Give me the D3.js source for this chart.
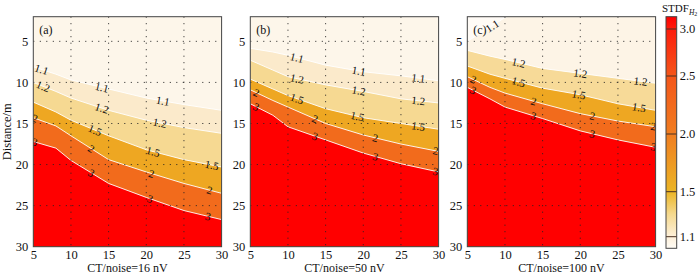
<!DOCTYPE html>
<html>
<head>
<meta charset="utf-8">
<script src="https://cdn.jsdelivr.net/npm/d3@7"></script>
<style>
  body { margin: 0; background: #fff; }
  svg { font-family: "Liberation Serif", "Times New Roman", serif; }
</style>
</head>
<body>
<div id="chart"></div>
<script>
// CT/noise values where the contour depths were read
const ctNoise = [5, 8, 10, 15, 20, 25, 30];
const levels = ['1.1', '1.2', '1.5', '2', '3'];
const xTicks = [5, 10, 15, 20, 25, 30];
const yTicks = [5, 10, 15, 20, 25, 30];
const panelNames = ['(a)', '(b)', '(c)'];
const xTitles = ['CT/noise=16 nV', 'CT/noise=50 nV', 'CT/noise=100 nV'];
const cbTicks = [1.1, 1.5, 2.0, 2.5, 3.0];

// depth (m) of each contour line, one row per level
const depthA = [
  [8.1, 9.0, 9.7, 10.8, 11.9, 12.7, 13.4],
  [10.0, 11.1, 11.9, 13.4, 14.6, 15.5, 16.2],
  [12.4, 13.6, 14.6, 16.5, 18.2, 19.4, 20.3],
  [14.3, 15.3, 16.5, 19.4, 20.9, 22.3, 23.5],
  [17.2, 18.0, 19.5, 22.3, 24.0, 25.6, 26.7]
];
const depthB = [
  [5.85, 6.3, 6.7, 7.9, 8.7, 9.2, 9.8],
  [7.3, 8.5, 9.3, 10.3, 11.1, 12.0, 12.5],
  [9.6, 10.8, 11.6, 13.2, 14.3, 15.0, 15.7],
  [10.9, 12.2, 13.0, 15.0, 16.4, 17.5, 18.4],
  [12.6, 14.0, 15.4, 17.0, 18.6, 19.9, 20.9]
];
const depthC = [
  [5.0, 3.3, 2.1, 0, 0, 0, 0],
  [6.1, 6.8, 7.2, 8.3, 8.9, 9.5, 10.1],
  [8.0, 9.0, 9.5, 10.7, 11.5, 12.6, 13.4],
  [9.3, 10.6, 11.3, 12.6, 13.8, 14.7, 15.4],
  [10.6, 12.0, 13.0, 14.4, 15.9, 17.0, 17.9]
];

// CT/noise positions of the inline contour labels, per level
const labelsA = [[6.1, 14.1, 22.2], [6.3, 14.1, 21.8], [13.2, 20.9, 28.7], [5.2, 12.7, 20.7, 28.4], [5.2, 12.7, 20.5, 28.2]];
const labelsB = [[11.2, 19.4, 27.3], [11.2, 19.4, 27.3], [11.2, 19.2, 27.3], [5.8, 13.6, 21.6, 29.6], [5.8, 13.6, 21.6, 29.6]];
const labelsC = [[8.3], [11.8, 20, 28], [11.8, 19.8, 27.8], [5.8, 13.8, 21.6, 29.7], [5.8, 13.8, 21.6, 29.7]];

// fill colours of the bands (below 1.1, 1.1-1.2, 1.2-1.5, 1.5-2, 2-3, above 3)
const bandsAB = ['#fdf6ea', '#fbeacb', '#f6d992', '#eea722', '#f26b1c', '#ff0000'];
const bandsC = ['#fffbf6', '#fdf4e6', '#f7da98', '#eea722', '#f26b1c', '#ff0000'];

const panels = [
  { depth: depthA, labels: labelsA, colors: bandsAB },
  { depth: depthB, labels: labelsB, colors: bandsAB },
  { depth: depthC, labels: labelsC, colors: bandsC }
];

const width = 700, height = 275;
const lefts = [33.3, 250.3, 467.3];
const pw = 188.3, plotTop = 16.7, plotBottom = 246.7;

const svg = d3.select('#chart').append('svg')
  .attr('width', width)
  .attr('height', height);

const y = d3.scaleLinear().domain([2, 30]).range([plotTop, plotBottom]);

panels.forEach((p, pi) => {
  const x = d3.scaleLinear().domain([5, 30]).range([lefts[pi], lefts[pi] + pw]);
  const g = svg.append('g');

  g.append('clipPath').attr('id', 'clip' + pi)
    .append('rect')
    .attr('x', lefts[pi]).attr('y', plotTop)
    .attr('width', pw).attr('height', plotBottom - plotTop);

  const body = g.append('g').attr('clip-path', `url(#clip${pi})`);

  body.append('rect')
    .attr('x', lefts[pi]).attr('y', plotTop)
    .attr('width', pw).attr('height', plotBottom - plotTop)
    .attr('fill', p.colors[0]);

  const area = d3.area()
    .x((d, i) => x(ctNoise[i]))
    .y0(y(30))
    .y1(d => y(d));
  const line = d3.line()
    .x((d, i) => x(ctNoise[i]))
    .y(d => y(d));

  body.selectAll('path.band')
    .data(p.depth)
    .join('path')
    .attr('class', 'band')
    .attr('d', area)
    .attr('fill', (d, i) => p.colors[i + 1]);

  body.selectAll('path.cline')
    .data(p.depth)
    .join('path')
    .attr('class', 'cline')
    .attr('d', line)
    .attr('fill', 'none')
    .attr('stroke', '#fff')
    .attr('stroke-width', 0.9);

  // dotted grid
  body.selectAll('line.gx')
    .data(xTicks.slice(1, -1))
    .join('line')
    .attr('class', 'gx')
    .attr('x1', d => x(d)).attr('x2', d => x(d))
    .attr('y1', plotTop).attr('y2', plotBottom)
    .attr('stroke', '#222').attr('stroke-width', 1)
    .attr('stroke-dasharray', '1,5.5');
  body.selectAll('line.gy')
    .data(yTicks.slice(0, -1))
    .join('line')
    .attr('class', 'gy')
    .attr('x1', lefts[pi]).attr('x2', lefts[pi] + pw)
    .attr('y1', d => y(d)).attr('y2', d => y(d))
    .attr('stroke', '#222').attr('stroke-width', 1)
    .attr('stroke-dasharray', '1,5.5');

  // inline contour labels
  p.labels.forEach((vals, li) => {
    const interp = d3.scaleLinear().domain(ctNoise).range(p.depth[li]);
    vals.forEach(v => {
      const a = Math.atan2(y(interp(v + 0.5)) - y(interp(v - 0.5)), x(v + 0.5) - x(v - 0.5)) * 180 / Math.PI;
      body.append('text')
        .attr('transform', `translate(${x(v)},${y(interp(v))}) rotate(${a})`)
        .attr('text-anchor', 'middle')
        .attr('dy', '0.35em')
        .attr('font-size', 11)
        .attr('fill', '#111')
        .text(levels[li]);
    });
  });

  g.append('text')
    .attr('x', lefts[pi] + 6).attr('y', plotTop + 17)
    .attr('font-size', 12)
    .attr('fill', '#111')
    .text(panelNames[pi]);

  g.append('rect')
    .attr('x', lefts[pi]).attr('y', plotTop)
    .attr('width', pw).attr('height', plotBottom - plotTop)
    .attr('fill', 'none')
    .attr('stroke', '#444').attr('stroke-width', 1);

  const xAxis = g.append('g')
    .attr('transform', `translate(0,${plotBottom})`)
    .call(d3.axisBottom(x).tickValues(xTicks).tickSize(0).tickPadding(3));
  const yAxis = g.append('g')
    .attr('transform', `translate(${lefts[pi]},0)`)
    .call(d3.axisLeft(y).tickValues(yTicks).tickSize(0).tickPadding(5));
  [xAxis, yAxis].forEach(ax => {
    ax.select('.domain').remove();
    ax.selectAll('text')
      .attr('font-family', '"Liberation Serif", serif')
      .attr('font-size', 12.5)
      .attr('fill', '#111');
  });

  g.append('text')
    .attr('x', lefts[pi] + pw / 2).attr('y', 272)
    .attr('text-anchor', 'middle')
    .attr('font-size', 12)
    .attr('fill', '#111')
    .text(xTitles[pi]);
});

svg.append('text')
  .attr('transform', `translate(11,${(plotTop + plotBottom) / 2}) rotate(-90)`)
  .attr('text-anchor', 'middle')
  .attr('font-size', 12.5)
  .attr('fill', '#111')
  .text('Distance/m');

// colorbar
const cbX = 666, cbW = 10.7, cbTop = 16.7, cbBottom = 248.3;
const cb = d3.scaleLinear()
  .domain([1.0, 1.1, 1.5, 2.0, 2.5, 3.0, 3.13])
  .range([cbBottom, 236.7, 191.7, 134, 76, 29, cbTop]);
const cbStops = [
  [1.0, '#fffcf6'], [1.1, '#fdf0da'], [1.3, '#f5d98e'], [1.5, '#ebb526'],
  [2.0, '#f07d20'], [2.5, '#f4561a'], [3.0, '#fd1c0c'], [3.13, '#ff0000']
];
const grad = svg.append('defs').append('linearGradient')
  .attr('id', 'cbgrad')
  .attr('x1', 0).attr('y1', 1).attr('x2', 0).attr('y2', 0);
grad.selectAll('stop')
  .data(cbStops)
  .join('stop')
  .attr('offset', d => (cbBottom - cb(d[0])) / (cbBottom - cbTop))
  .attr('stop-color', d => d[1]);

svg.append('rect')
  .attr('x', cbX).attr('y', cbTop)
  .attr('width', cbW).attr('height', cbBottom - cbTop)
  .attr('fill', 'url(#cbgrad)');
svg.selectAll('line.cbt')
  .data(cbTicks)
  .join('line')
  .attr('class', 'cbt')
  .attr('x1', cbX).attr('x2', cbX + cbW)
  .attr('y1', d => cb(d)).attr('y2', d => cb(d))
  .attr('stroke', '#4a3020').attr('stroke-width', 1);
svg.append('rect')
  .attr('x', cbX).attr('y', cbTop)
  .attr('width', cbW).attr('height', cbBottom - cbTop)
  .attr('fill', 'none')
  .attr('stroke', '#444').attr('stroke-width', 1);
svg.selectAll('text.cbl')
  .data(cbTicks)
  .join('text')
  .attr('class', 'cbl')
  .attr('x', cbX + cbW + 3)
  .attr('y', d => cb(d))
  .attr('dy', '0.35em')
  .attr('font-size', 12.5)
  .attr('fill', '#111')
  .text(d => d.toFixed(1));

const title = svg.append('text')
  .attr('x', 662).attr('y', 12)
  .attr('font-size', 11)
  .attr('fill', '#111');
title.append('tspan').text('STDF');
title.append('tspan')
  .attr('font-style', 'italic')
  .attr('font-size', 7.5)
  .attr('dy', 3)
  .text('H');
title.append('tspan')
  .attr('font-size', 6)
  .attr('dy', 1)
  .text('2');
</script>
</body>
</html>
